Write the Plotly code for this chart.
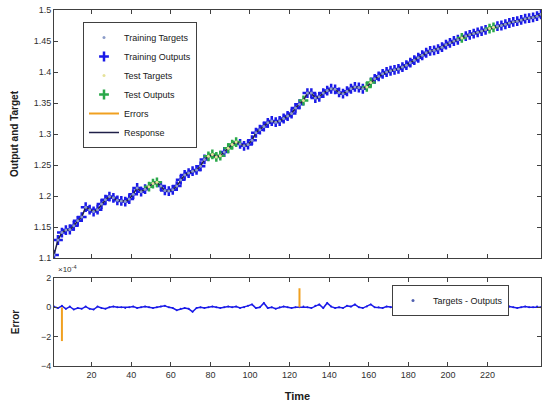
import plotly.graph_objects as go

# ---------------- data ----------------
time_steps = list(range(1, 248, 2))
targets = [1.105, 1.129, 1.141, 1.145, 1.146, 1.152, 1.160, 1.166, 1.182, 1.178,
           1.175, 1.178, 1.187, 1.194, 1.199, 1.197, 1.193, 1.192, 1.191, 1.195,
           1.203, 1.213, 1.207, 1.211, 1.215, 1.220, 1.222, 1.216, 1.209, 1.208,
           1.210, 1.216, 1.226, 1.234, 1.237, 1.240, 1.242, 1.248, 1.259, 1.264,
           1.267, 1.263, 1.265, 1.271, 1.277, 1.283, 1.287, 1.284, 1.281, 1.283,
           1.290, 1.302, 1.307, 1.312, 1.318, 1.321, 1.319, 1.321, 1.325, 1.329,
           1.333, 1.342, 1.348, 1.354, 1.366, 1.366, 1.358, 1.360, 1.366, 1.370,
           1.373, 1.372, 1.367, 1.365, 1.369, 1.373, 1.376, 1.375, 1.373, 1.376,
           1.383, 1.389, 1.393, 1.397, 1.400, 1.402, 1.4035, 1.405, 1.408, 1.411,
           1.415, 1.419, 1.423, 1.427, 1.431, 1.434, 1.435, 1.437, 1.440, 1.444,
           1.447, 1.450, 1.452, 1.455, 1.458, 1.460, 1.462, 1.464, 1.466, 1.468,
           1.470, 1.472, 1.474, 1.475, 1.477, 1.479, 1.481, 1.482, 1.484, 1.486,
           1.487, 1.488, 1.490, 1.493]
# errors (targets - outputs), in units of 1e-4
errors = [0.05, -0.05, 0.10, -0.10, 0.05, -0.15, -0.05, -0.10, 0.05, -0.10,
          -0.15, 0.05, -0.05, -0.10, 0.00, 0.05, 0.00, 0.00, -0.05, 0.00,
          0.05, -0.05, 0.00, 0.05, 0.00, -0.05, 0.00, 0.05, 0.10, 0.00,
          -0.05, -0.20, -0.10, -0.05, -0.10, -0.30, -0.05, 0.00, -0.05, 0.00,
          0.05, 0.00, -0.05, 0.00, 0.05, 0.00, 0.05, -0.05, 0.00, 0.10,
          0.20, -0.05, 0.00, 0.30, -0.05, 0.00, -0.10, 0.00, 0.05, 0.00,
          -0.05, 0.00, 0.00, 0.05, 0.00, -0.05, 0.10, 0.20, -0.05, 0.30,
          0.05, -0.05, 0.00, -0.05, 0.10, 0.05, 0.20, 0.00, -0.05, 0.05,
          0.20, 0.00, 0.00, -0.05, 0.05, 0.00, 0.00, -0.05, 0.00, 0.05,
          0.00, -0.05, -0.10, 0.00, -0.10, -0.05, 0.00, -0.15, -0.05, -0.10,
          0.00, -0.15, -0.05, -0.10, -0.20, -0.05, -0.10, -0.05, -0.15, 0.00,
          -0.10, -0.05, 0.00, -0.05, 0.00, 0.05, 0.00, -0.05, 0.00, 0.05,
          0.00, 0.00, 0.05, 0.00]
test_steps = [49, 51, 53, 79, 81, 83, 85, 89, 91, 93, 127, 159, 161, 207, 221, 223]
spike_steps = [5, 125]
spike_errors = [-2.3, 1.3]
y_ticks_top = [1.1, 1.15, 1.2, 1.25, 1.3, 1.35, 1.4, 1.45, 1.5]
y_tick_labels_top = ["1.1", "1.15", "1.2", "1.25", "1.3", "1.35", "1.4", "1.45", "1.5"]
x_ticks = [20, 40, 60, 80, 100, 120, 140, 160, 180, 200, 220]
y_ticks_bottom = [-4, -2, 0, 2]

outputs = [t - e * 1e-4 for t, e in zip(targets, errors)]
train_t = [t for t in time_steps if t not in test_steps]
train_tar = [v for t, v in zip(time_steps, targets) if t not in test_steps]
train_out = [v for t, v in zip(time_steps, outputs) if t not in test_steps]
test_t = [t for t in time_steps if t in test_steps]
test_tar = [v for t, v in zip(time_steps, targets) if t in test_steps]
test_out = [v for t, v in zip(time_steps, outputs) if t in test_steps]

fig = go.Figure()
BLUE = "#1a1ae8"
GREEN = "#2aa84a"
ORANGE = "#f0a020"
FONT = "Liberation Sans, Arial"

fig.add_trace(go.Scatter(x=train_t, y=train_out, mode="markers", name="Training Outputs",
                         marker=dict(symbol="cross-thin-open", size=7, color=BLUE,
                                     line=dict(color=BLUE, width=2.5)),
                         xaxis="x", yaxis="y", legendrank=2, legend="legend"))
fig.add_trace(go.Scatter(x=test_t, y=test_out, mode="markers", name="Test Outputs",
                         marker=dict(symbol="cross-thin-open", size=7, color=GREEN,
                                     line=dict(color=GREEN, width=2.5)),
                         xaxis="x", yaxis="y", legendrank=4, legend="legend"))
fig.add_trace(go.Scatter(x=time_steps, y=outputs, mode="lines", name="Response",
                         line=dict(color="#202048", width=1.5), xaxis="x", yaxis="y",
                         legendrank=6, legend="legend"))
fig.add_trace(go.Scatter(x=train_t, y=train_tar, mode="markers", name="Training Targets",
                         marker=dict(symbol="circle", size=3, color="#8c9cc8"),
                         xaxis="x", yaxis="y", legendrank=1, legend="legend"))
fig.add_trace(go.Scatter(x=test_t, y=test_tar, mode="markers", name="Test Targets",
                         marker=dict(symbol="circle", size=3, color="#e6e29a"),
                         xaxis="x", yaxis="y", legendrank=3, legend="legend"))
fig.add_trace(go.Scatter(x=[time_steps[0]], y=[None], mode="lines", name="Errors",
                         line=dict(color=ORANGE, width=2),
                         xaxis="x", yaxis="y", legendrank=5, legend="legend"))

# bottom: error plot
fig.add_trace(go.Scatter(x=time_steps, y=errors, mode="lines+markers", name="Targets - Outputs",
                         line=dict(color=BLUE, width=1.5),
                         marker=dict(symbol="circle", size=2, color=BLUE),
                         showlegend=False, xaxis="x2", yaxis="y2"))
fig.add_trace(go.Scatter(x=[time_steps[0]], y=[None], mode="markers", name="Targets - Outputs",
                         marker=dict(symbol="circle", size=3, color="#5060b0"),
                         xaxis="x2", yaxis="y2", legend="legend2"))
for st, se in zip(spike_steps, spike_errors):
    fig.add_trace(go.Scatter(x=[st, st], y=[0, se], mode="lines", showlegend=False,
                             line=dict(color=ORANGE, width=2), xaxis="x2", yaxis="y2"))

axis_common = dict(showgrid=False, zeroline=False, showline=True, linecolor="#404040",
                   linewidth=1, mirror="ticks", ticks="inside", ticklen=4, automargin=False,
                   tickcolor="#404040", tickfont=dict(family=FONT, size=9, color="#303030"))

fig.update_layout(
    width=545, height=404, margin=dict(l=0, r=0, t=0, b=0, autoexpand=False),
    paper_bgcolor="white", plot_bgcolor="white",
    xaxis=dict(domain=[54 / 545, 541 / 545], range=[1, 247], tickvals=x_ticks,
               showticklabels=False, anchor="y", **axis_common),
    yaxis=dict(domain=[(404 - 258) / 404, (404 - 10) / 404], range=[1.1, 1.5],
               tickvals=y_ticks_top, ticktext=y_tick_labels_top, anchor="x",
               title=dict(text="<b>Output and Target</b>", standoff=13,
                          font=dict(family=FONT, size=10, color="#202020")),
               **axis_common),
    xaxis2=dict(domain=[54 / 545, 541 / 545], range=[1, 247], tickvals=x_ticks, anchor="y2",
                title=dict(text="<b>Time</b>", standoff=13,
                           font=dict(family=FONT, size=11, color="#202020")),
                **axis_common),
    yaxis2=dict(domain=[(404 - 366) / 404, (404 - 278) / 404], range=[-4, 2],
                tickvals=y_ticks_bottom, anchor="x2",
                title=dict(text="<b>Error</b>", standoff=19,
                           font=dict(family=FONT, size=10, color="#202020")),
                **axis_common),
    legend=dict(x=83 / 545, y=1 - 22 / 404, xanchor="left", yanchor="top",
                bgcolor="white", bordercolor="#404040", borderwidth=1,
                font=dict(family=FONT, size=9, color="#202020"),
                tracegroupgap=0, itemsizing="trace", itemwidth=30),
    legend2=dict(x=392 / 545, y=1 - 285 / 404, xanchor="left", yanchor="top",
                 bgcolor="white", bordercolor="#404040", borderwidth=1,
                 font=dict(family=FONT, size=9, color="#202020"), itemwidth=30),
    annotations=[dict(text="×10<sup>-4</sup>", x=56 / 545, y=1 - 276 / 404, xref="paper",
                      yref="paper", xanchor="left", yanchor="bottom", showarrow=False,
                      font=dict(family=FONT, size=8, color="#303030"))],
)

fig.write_html("out.html", post_script="document.body.style.margin='0';",
               config={"displayModeBar": False})
